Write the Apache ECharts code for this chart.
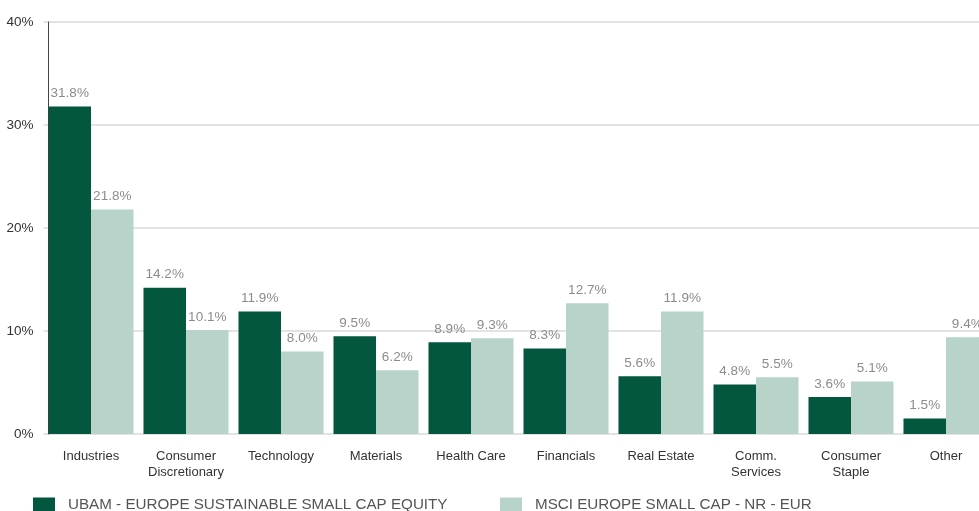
<!DOCTYPE html>
<html><head><meta charset="utf-8">
<script src="https://cdn.jsdelivr.net/npm/echarts@6/dist/echarts.min.js"></script>
<style>html,body{margin:0;padding:0;background:#fff;overflow:hidden;width:979px;height:511px}#c{width:1000px;height:511px}</style>
</head><body><div id="c"></div>
<script>
const categories = ['Industries','Consumer\nDiscretionary','Technology','Materials','Health Care','Financials','Real Estate','Comm.\nServices','Consumer\nStaple','Other'];
const seriesNames = ['UBAM - EUROPE SUSTAINABLE SMALL CAP EQUITY','MSCI EUROPE SMALL CAP - NR - EUR'];
const fundValues = [31.8,14.2,11.9,9.5,8.9,8.3,5.6,4.8,3.6,1.5];
const indexValues = [21.8,10.1,8.0,6.2,9.3,12.7,11.9,5.5,5.1,9.4];
const yTicks = [0,10,20,30,40];
const font = "'Liberation Sans',Arial,sans-serif";
const chart = echarts.init(document.getElementById('c'));
const lbl = {show:true, position:'top', distance:6, color:'#8c8c8c', fontSize:13.5, fontFamily:font, formatter: p => p.value.toFixed(1)+'%'};
const legendBase = {top:497,itemWidth:22,itemHeight:14,icon:'rect',padding:0,
  textStyle:{color:'#555',fontSize:15.2,fontFamily:font,padding:[0,0,0,8]}};
chart.setOption({
  animation:false,
  grid:{left:43.5,right:6.5,top:22,bottom:77,containLabel:false},
  legend:[
    Object.assign({left:33,data:[seriesNames[0]]},legendBase),
    Object.assign({left:500,data:[seriesNames[1]]},legendBase)
  ],
  xAxis:{type:'category',data:categories,axisLine:{show:false},axisTick:{show:false},
    axisLabel:{color:'#333',fontSize:13,fontFamily:font,lineHeight:16,margin:14,interval:0}},
  yAxis:{type:'value',min:yTicks[0],max:yTicks[yTicks.length-1],interval:10,offset:-5,
    axisLine:{show:true,lineStyle:{color:'#444',width:1}},axisTick:{show:false},
    splitLine:{lineStyle:{color:'#dadada',width:1.5}},
    axisLabel:{color:'#333',fontSize:13.5,fontFamily:font,margin:15,formatter:'{value}%'}},
  series:[
    {name:seriesNames[0],type:'bar',data:fundValues,itemStyle:{color:'#02573e'},barGap:'0%',barCategoryGap:'10.5%',label:lbl},
    {name:seriesNames[1],type:'bar',data:indexValues,itemStyle:{color:'#b8d3c9'},barGap:'0%',barCategoryGap:'10.5%',label:lbl}
  ]
});
</script></body></html>
